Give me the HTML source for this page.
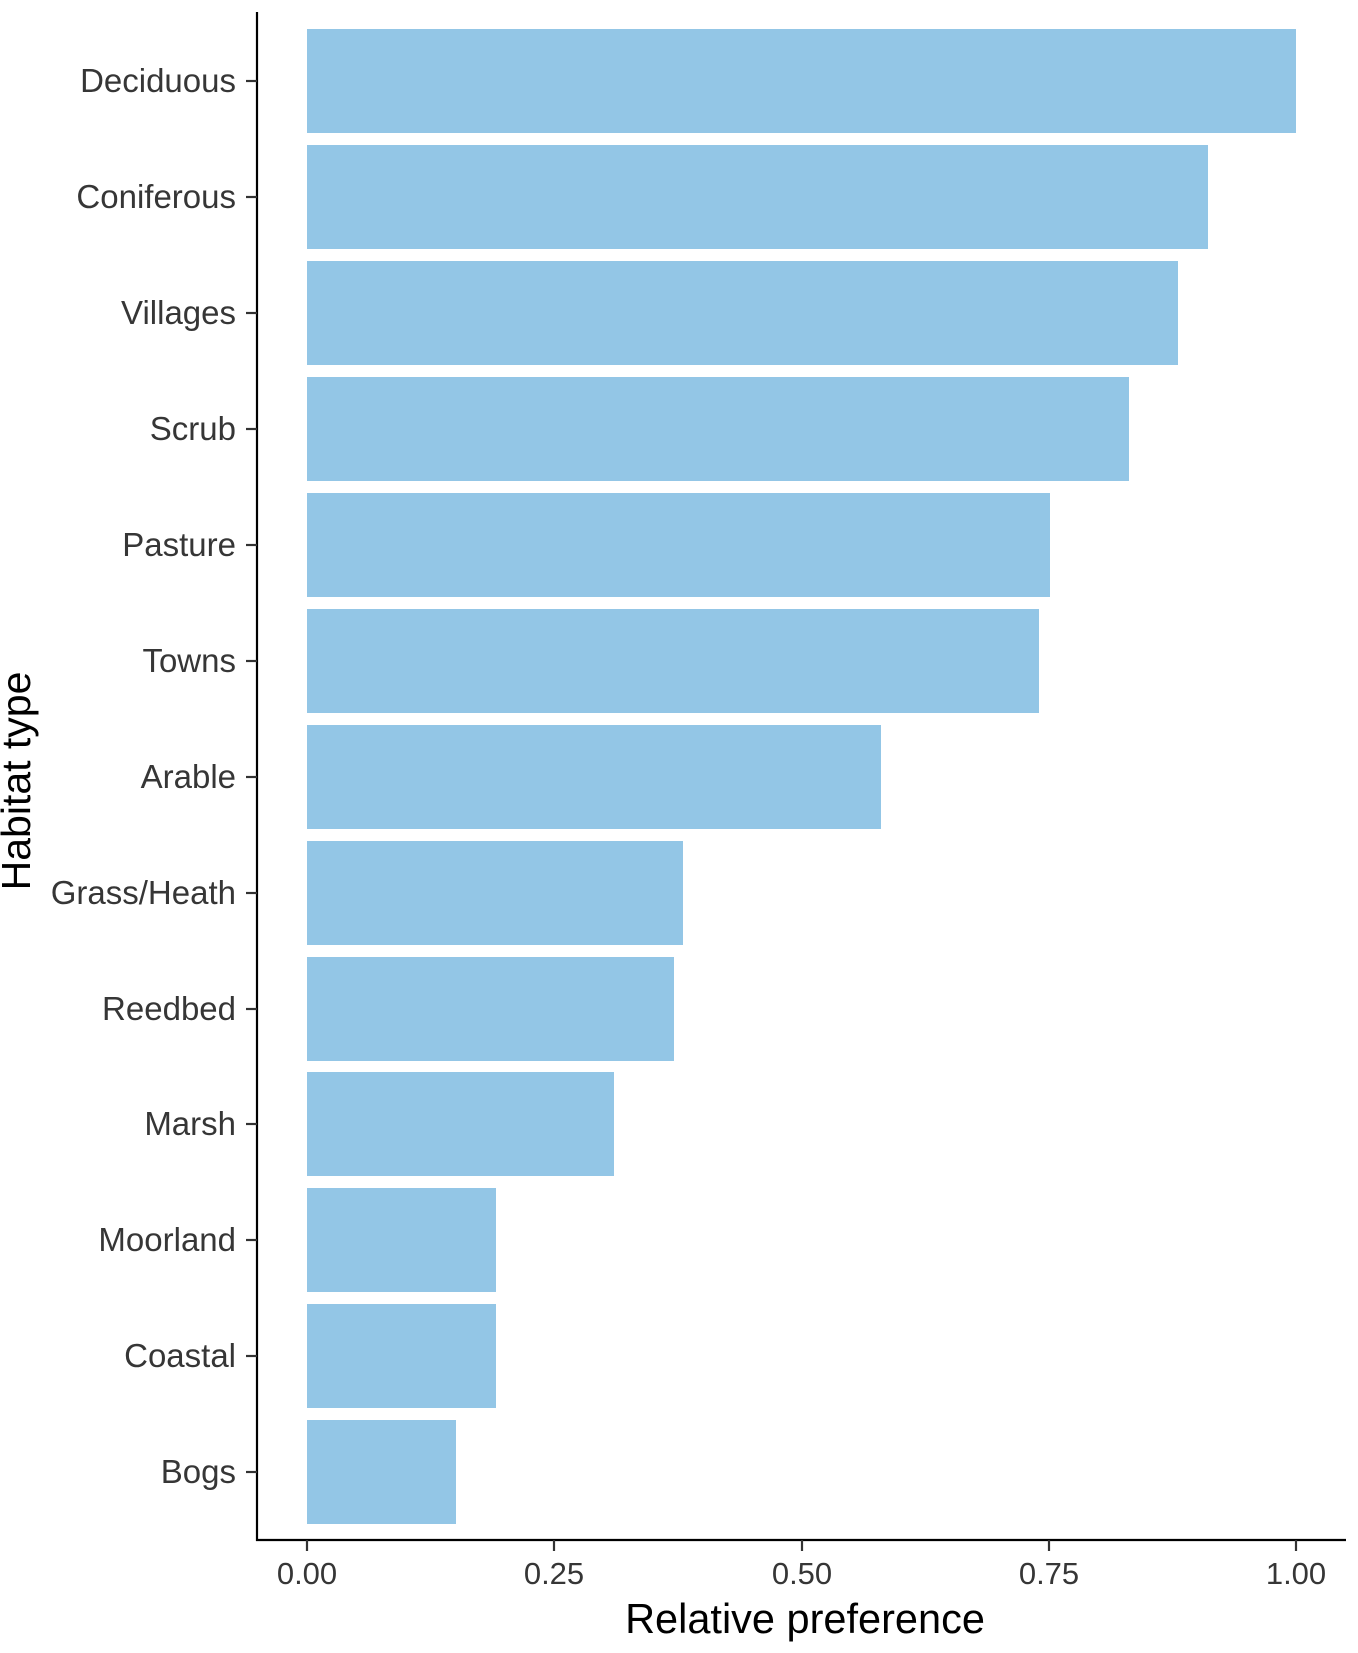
<!DOCTYPE html>
<html><head><meta charset="utf-8"><style>
html,body{margin:0;padding:0;background:#fff;}
svg{display:block;font-family:"Liberation Sans",Arial,sans-serif;}
</style></head><body>
<svg width="1358" height="1653" viewBox="0 0 1358 1653" xmlns="http://www.w3.org/2000/svg">
<g fill="#93c6e6">
<rect x="307" y="29" width="989" height="104"/>
<rect x="307" y="145" width="901" height="104"/>
<rect x="307" y="261" width="871" height="104"/>
<rect x="307" y="377" width="822" height="104"/>
<rect x="307" y="493" width="743" height="104"/>
<rect x="307" y="609" width="732" height="104"/>
<rect x="307" y="725" width="574" height="104"/>
<rect x="307" y="841" width="376" height="104"/>
<rect x="307" y="957" width="367" height="104"/>
<rect x="307" y="1072" width="307" height="104"/>
<rect x="307" y="1188" width="189" height="104"/>
<rect x="307" y="1304" width="189" height="104"/>
<rect x="307" y="1420" width="149" height="104"/>
</g>
<g stroke="#000" stroke-width="2.2" fill="none">
<line x1="257" y1="12" x2="257" y2="1541"/>
<line x1="256" y1="1540" x2="1346" y2="1540"/>
</g>
<g stroke="#333" stroke-width="2.2">
<line x1="246" y1="81" x2="257" y2="81"/>
<line x1="246" y1="197" x2="257" y2="197"/>
<line x1="246" y1="313" x2="257" y2="313"/>
<line x1="246" y1="429" x2="257" y2="429"/>
<line x1="246" y1="545" x2="257" y2="545"/>
<line x1="246" y1="661" x2="257" y2="661"/>
<line x1="246" y1="777" x2="257" y2="777"/>
<line x1="246" y1="893" x2="257" y2="893"/>
<line x1="246" y1="1009" x2="257" y2="1009"/>
<line x1="246" y1="1124" x2="257" y2="1124"/>
<line x1="246" y1="1240" x2="257" y2="1240"/>
<line x1="246" y1="1356" x2="257" y2="1356"/>
<line x1="246" y1="1472" x2="257" y2="1472"/>
<line x1="307" y1="1540" x2="307" y2="1551"/>
<line x1="554" y1="1540" x2="554" y2="1551"/>
<line x1="802" y1="1540" x2="802" y2="1551"/>
<line x1="1049" y1="1540" x2="1049" y2="1551"/>
<line x1="1296" y1="1540" x2="1296" y2="1551"/>
</g>
<g fill="#363636" font-size="33" text-anchor="end">
<text x="236" y="92">Deciduous</text>
<text x="236" y="208">Coniferous</text>
<text x="236" y="324">Villages</text>
<text x="236" y="440">Scrub</text>
<text x="236" y="556">Pasture</text>
<text x="236" y="672">Towns</text>
<text x="236" y="788">Arable</text>
<text x="236" y="904">Grass/Heath</text>
<text x="236" y="1020">Reedbed</text>
<text x="236" y="1135">Marsh</text>
<text x="236" y="1251">Moorland</text>
<text x="236" y="1367">Coastal</text>
<text x="236" y="1483">Bogs</text>
</g>
<g fill="#363636" font-size="31" text-anchor="middle">
<text x="307" y="1584">0.00</text>
<text x="554" y="1584">0.25</text>
<text x="802" y="1584">0.50</text>
<text x="1049" y="1584">0.75</text>
<text x="1296" y="1584">1.00</text>
</g>
<text x="805" y="1633" font-size="41.5" text-anchor="middle" fill="#000">Relative preference</text>
<text transform="translate(30,781) rotate(-90)" font-size="41" text-anchor="middle" fill="#000">Habitat type</text>
</svg>
</body></html>
